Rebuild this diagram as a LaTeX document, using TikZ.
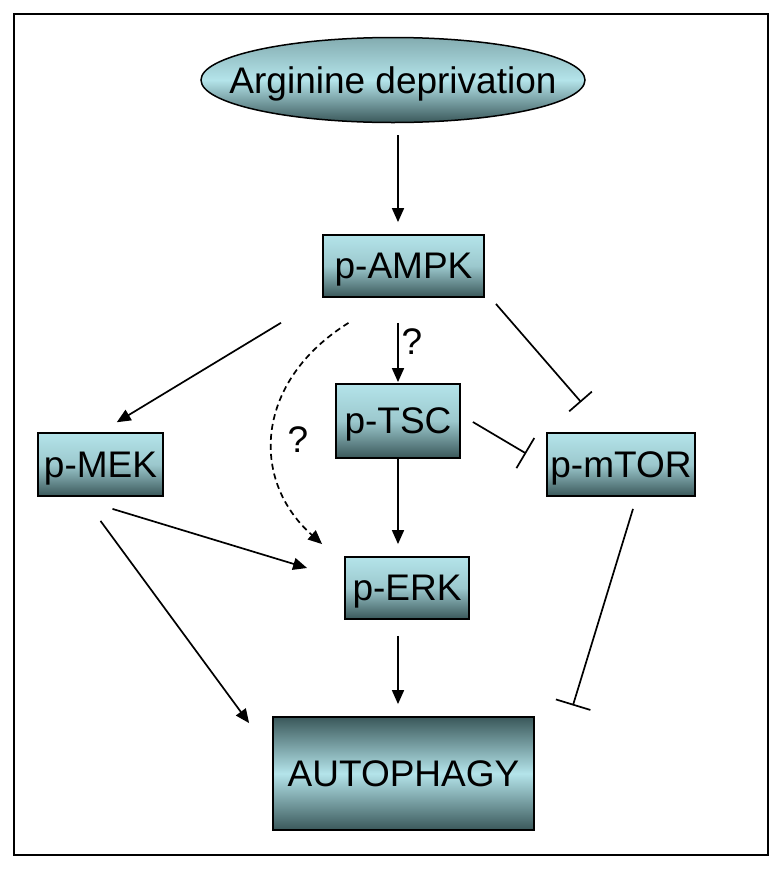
\documentclass[tikz,border=0pt]{standalone}
\usepackage{fontspec}
\setmainfont{Liberation Sans}
\usetikzlibrary{arrows.meta,shapes.geometric,calc}
\definecolor{boxlight}{RGB}{180,228,234}
\definecolor{boxdark}{RGB}{58,88,90}
\tikzset{
	prot/.style={draw, line width=1.8pt, rectangle, inner sep=0pt, text depth=0pt,
		top color=boxlight, bottom color=boxdark, middle color=boxlight!80!boxdark,
		font=\fontsize{37}{40}\selectfont},
	act/.style={line width=1.7pt, -{Triangle[length=14pt,width=12pt]}},
	inh/.style={line width=1.7pt, -{Bar[width=#1,line width=1.7pt]}},
	inh/.default=30pt,
	qmark/.style={font=\fontsize{37}{40}\selectfont, inner sep=1pt},
}
\begin{document}
\begin{tikzpicture}[x=1pt,y=-1pt]
	\useasboundingbox (0,0) rectangle (782,871);
	\draw[line width=2pt] (14,14) rectangle (768,855);
	\node[prot, ellipse, line width=1.5pt, inner xsep=-30pt, minimum width=384pt, minimum height=85pt,
		top color=boxlight!60!boxdark, bottom color=boxdark, middle color=boxlight] (arg) at (393,80) {Arginine deprivation};
	\node[prot, minimum width=161pt, minimum height=62pt] (ampk) at (403.5,266) {p-AMPK};
	\node[prot, minimum width=125pt, minimum height=63pt] (mek) at (100.5,464.5) {p-MEK};
	\node[prot, minimum width=124pt, minimum height=74pt] (tsc) at (398,421) {p-TSC};
	\node[prot, minimum width=148pt, minimum height=63pt] (mtor) at (621,464.5) {p-mTOR};
	\node[prot, minimum width=124pt, minimum height=62pt] (erk) at (407,588) {p-ERK};
	\node[prot, minimum width=261pt, minimum height=113pt,
		top color=boxdark, bottom color=boxdark, middle color=boxlight] (auto) at (403.5,773.5) {AUTOPHAGY};
	\node[qmark] (q1) at (412,342) {?};
	\node[qmark] (q2) at (298,440) {?};

	\draw[act, shorten <=12pt, shorten >=12pt] (arg.south -| tsc.north) -- (ampk.north -| tsc.north);
	\draw[act, shorten <=48pt, shorten >=19pt] (ampk.south west) -- (mek.north);
	\draw[act, dash pattern=on 6pt off 4pt] ($(ampk.south)+(-55,25)$) .. controls ($(ampk.south)+(-148,83)$) and ($(erk.north west)+(-95,-77)$) .. ($(erk.north west)+(-22,-12)$);
	\draw[act, shorten <=25pt, shorten >=1pt] (ampk.south -| tsc.north) -- (tsc.north);
	\draw[inh=30pt] ($(ampk.south east)+(11,6)$) -- ($(mtor.north west)+(35,-30)$);
	\draw[inh=35pt] ($(tsc.east)+(12,1)$) -- ($(mtor.west)+(-20,-11)$);
	\draw[act, shorten >=12pt] (tsc.south) -- (tsc.south |- erk.north);
	\draw[act] ($(mek.south)+(12,12)$) -- ($(erk.west)+(-37,-20)$);
	\draw[act] ($(mek.south)+(0,24)$) -- ($(auto.north west)+(-23,7)$);
	\draw[act, shorten <=16pt, shorten >=12pt] (erk.south -| tsc.south) -- (auto.north -| tsc.south);
	\draw[inh=36pt] ($(mtor.south)+(12,12)$) -- ($(auto.east)+(38,-68)$);
\end{tikzpicture}
\end{document}
